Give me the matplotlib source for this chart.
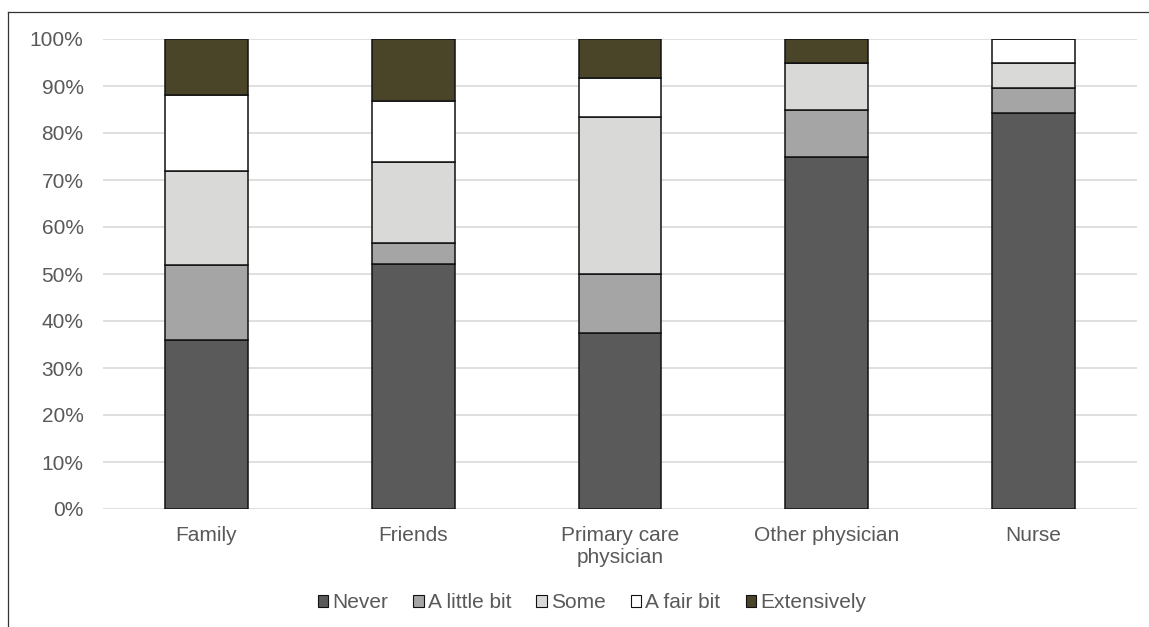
import matplotlib.pyplot as plt
from matplotlib.patches import Patch
from matplotlib.lines import Line2D
import numpy as np

plt.rcParams['font.family'] = ['Liberation Sans', 'DejaVu Sans']

categories = ['Family', 'Friends', 'Primary care\nphysician', 'Other physician', 'Nurse']
series_names = ['Never', 'A little bit', 'Some', 'A fair bit', 'Extensively']

never = [36.0, 52.2, 37.5, 75.0, 84.2]
little_bit = [16.0, 4.4, 12.5, 10.0, 5.3]
some = [20.0, 17.3, 33.3, 10.0, 5.3]
fair_bit = [16.0, 13.0, 8.3, 0.0, 5.2]
extensively = [12.0, 13.1, 8.4, 5.0, 0.0]

colors = ['#595a59', '#a5a5a5', '#d9d9d8', '#ffffff', '#4a4528']
text_col = '#595959'
fs = 15

fig = plt.figure(figsize=(11.49, 6.27), dpi=100)
ax = fig.add_axes([103/1149, 1-509/627, (1137-103)/1149, 470/627])

x = np.arange(len(categories))
bottom = np.zeros(len(categories))
for vals, col in zip([never, little_bit, some, fair_bit, extensively], colors):
    vals = np.array(vals)
    ax.bar(x, vals, width=0.40, bottom=bottom, color=col,
           edgecolor='#111111', linewidth=1.1, zorder=3)
    bottom += vals

ax.set_xlim(-0.5, 4.5)
ax.set_ylim(0, 100)
ax.set_yticks(np.arange(0, 101, 10))
ax.set_yticklabels([f'{v}%' for v in range(0, 101, 10)])
ax.set_xticks(x)
ax.set_xticklabels(categories)
ax.yaxis.grid(True, color='#d9d9d9', linewidth=1.2, zorder=0)
ax.set_axisbelow(True)
for s in ax.spines.values():
    s.set_visible(False)
ax.tick_params(axis='both', length=0, labelsize=fs, colors=text_col)
ax.tick_params(axis='y', pad=14)
ax.tick_params(axis='x', pad=12)
for t in ax.get_xticklabels():
    t.set_linespacing(1.25)

handles = [Patch(facecolor=c, edgecolor='#111111', linewidth=0.8) for c in colors]
leg = fig.legend(handles, series_names, loc='center', bbox_to_anchor=(592/1149, 1-603/627),
                 ncol=5, frameon=False, fontsize=fs, handlelength=0.5, handleheight=0.5,
                 handletextpad=0.2, columnspacing=1.2)
for t in leg.get_texts():
    t.set_color(text_col)

# frame lines of the cropped chart area
fig.add_artist(Line2D([8/1149, 1], [1-12/627, 1-12/627], color='#333333', linewidth=0.9))
fig.add_artist(Line2D([8/1149, 8/1149], [0, 1-12/627], color='#333333', linewidth=0.9))

fig.savefig('out.png', dpi=100)
